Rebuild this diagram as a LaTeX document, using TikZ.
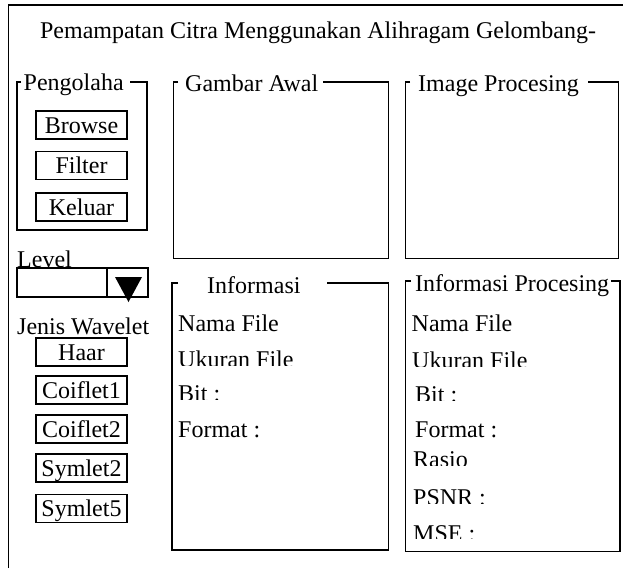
\documentclass[tikz,border=0pt]{standalone}
\usepackage{fontspec}
\setmainfont{Liberation Serif}
\begin{document}
\begin{tikzpicture}[x=1pt,y=-1pt,
  frameline/.style={line width=1.6pt,black},
  txt/.style={inner sep=0pt,anchor=base west,font=\fontsize{24}{28}\selectfont},
  btn/.style={draw,line width=1.7pt,inner sep=0pt,minimum width=91pt,minimum height=28pt,
    text height=16pt,text depth=0pt,font=\fontsize{24}{28}\selectfont}]
\useasboundingbox (0,0) rectangle (623,568);
% outer frame
\draw[frameline] (8.5,568) -- (8.5,5) -- (623,5);
% title
\node[txt,anchor=base] (title) at (318,38.5) {Pemampatan Citra Menggunakan Alihragam Gelombang-};
% Pengolaha group
\draw[frameline] (21,82) -- (17,82) -- (17,230) -- (147,230) -- (147,82) -- (130,82);
\node[txt] (peng) at (23.5,90) {Pengolaha};
\node[btn] (browse) at (81.5,125) {Browse};
\node[btn] (filter) at (81.5,165.5) {Filter};
\node[btn] (keluar) at (81.5,207) {Keluar};
% Level
\node[txt] (level) at (17,267) {Level};
\draw[frameline] (17,268) rectangle (148,297);
\draw[frameline] (107,268) -- (107,297);
\fill (115,277) -- (142,277) -- (128.5,302) -- cycle;
% Jenis Wavelet
\node[txt] (jenis) at (17,334) {Jenis Wavelet};
\node[btn] (haar) at (81.5,352) {Haar};
\node[btn] (coif1) at (81.5,390) {Coiflet1};
\node[btn] (coif2) at (81.5,429) {Coiflet2};
\node[btn] (sym2) at (81.5,468) {Symlet2};
\node[btn] (sym5) at (81.5,508.5) {Symlet5};
% Gambar Awal
\draw[frameline] (178,82) -- (173.5,82) -- (173.5,258.5) -- (388.5,258.5) -- (388.5,82) -- (323,82);
\node[txt] (gawal) at (185,91) {Gambar Awal};
% Image Procesing
\draw[frameline] (410,82) -- (405.5,82) -- (405.5,258.5) -- (618.5,258.5) -- (618.5,82) -- (588,82);
\node[txt] (imgp) at (418,91) {Image Procesing};
% Informasi
\draw[frameline] (178,283) -- (172,283) -- (172,550) -- (388.5,550) -- (388.5,283) -- (327,283);
\node[txt] (info) at (207,293) {Informasi};
\node[txt] (i1) at (178,331) {Nama File};
\begin{scope}\clip (170,340) rectangle (380,365);
\node[txt] (i2) at (178,367.5) {Ukuran File};\end{scope}
\begin{scope}\clip (170,375) rectangle (380,399.5);
\node[txt] (i3) at (178,401.5) {Bit :};\end{scope}
\node[txt] (i4) at (178,437) {Format :};
% Informasi Procesing
\draw[frameline] (411,281) -- (405.5,281) -- (405.5,551.5) -- (620,551.5) -- (620,281) -- (611,281);
\node[txt] (infop) at (415,291) {Informasi Procesing};
\node[txt] (p1) at (411.5,331) {Nama File};
\begin{scope}\clip (408,340) rectangle (615,366.7);
\node[txt] (p2) at (412,368.5) {Ukuran File};\end{scope}
\begin{scope}\clip (408,375) rectangle (615,400);
\node[txt] (p3) at (415,402) {Bit :};\end{scope}
\node[txt] (p4) at (415,437) {Format :};
\begin{scope}\clip (408,445) rectangle (615,465);
\node[txt] (p5) at (413,467) {Rasio};\end{scope}
\begin{scope}\clip (408,480) rectangle (615,503.3);
\node[txt] (p6) at (413,505) {PSNR :};\end{scope}
\begin{scope}\clip (408,515) rectangle (615,538.5);
\node[txt] (p7) at (413,541.5) {MSE :};\end{scope}
\end{tikzpicture}
\end{document}
